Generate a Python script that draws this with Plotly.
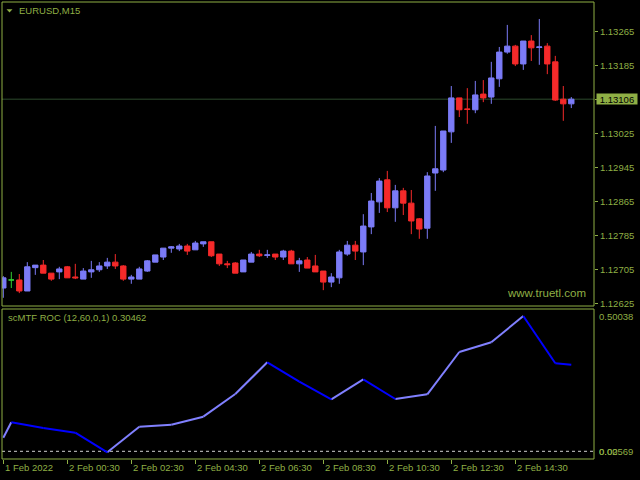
import plotly.graph_objects as go
import pandas as pd

# ---------------- data ----------------
symbol_label = "EURUSD,M15"
indicator_label = "scMTF ROC (12,60,0,1) 0.30462"
watermark = "www.truetl.com"

start_time = "2022-02-01 22:30"
n_bars = 72

opens = [1.12661, 1.12680, 1.12680, 1.12654, 1.12709, 1.12715, 1.12696, 1.12699, 1.12711, 1.12687,
         1.12682, 1.12699, 1.12704, 1.12713, 1.12722, 1.12713, 1.12682, 1.12682, 1.12701, 1.12722,
         1.12734, 1.12755, 1.12753, 1.12760, 1.12751, 1.12765, 1.12770, 1.12741, 1.12718, 1.12720,
         1.12699, 1.12722, 1.12741, 1.12738, 1.12741, 1.12734, 1.12748, 1.12718, 1.12727, 1.12713,
         1.12701, 1.12675, 1.12685, 1.12741, 1.12762, 1.12746, 1.12805, 1.12864, 1.12916, 1.12850,
         1.12890, 1.12861, 1.12824, 1.12802, 1.12932, 1.12939, 1.13029, 1.13109, 1.13083, 1.13081,
         1.13118, 1.13111, 1.13154, 1.13217, 1.13231, 1.13189, 1.13243, 1.13228, 1.13231, 1.13194,
         1.13106, 1.13095]
highs = [1.12689, 1.12699, 1.12694, 1.12722, 1.12715, 1.12727, 1.12696, 1.12711, 1.12713, 1.12718,
         1.12708, 1.12725, 1.12722, 1.12732, 1.12741, 1.12715, 1.12692, 1.12711, 1.12727, 1.12739,
         1.12755, 1.12760, 1.12765, 1.12765, 1.12772, 1.12770, 1.12770, 1.12741, 1.12725, 1.12722,
         1.12727, 1.12746, 1.12751, 1.12751, 1.12741, 1.12751, 1.12751, 1.12732, 1.12734, 1.12739,
         1.12701, 1.12696, 1.12751, 1.12772, 1.12772, 1.12835, 1.12885, 1.12920, 1.12937, 1.12904,
         1.12897, 1.12892, 1.12826, 1.12934, 1.13043, 1.13031, 1.13137, 1.13109, 1.13132, 1.13149,
         1.13151, 1.13194, 1.13229, 1.13281, 1.13234, 1.13243, 1.13257, 1.13295, 1.13238, 1.13208,
         1.13137, 1.13111]
lows = [1.12638, 1.12661, 1.12649, 1.12654, 1.12692, 1.12696, 1.12678, 1.12682, 1.12685, 1.12682,
        1.12682, 1.12685, 1.12699, 1.12706, 1.12706, 1.12678, 1.12671, 1.12682, 1.12699, 1.12722,
        1.12727, 1.12744, 1.12748, 1.12739, 1.12751, 1.12758, 1.12734, 1.12713, 1.12708, 1.12696,
        1.12699, 1.12722, 1.12734, 1.12732, 1.12727, 1.12727, 1.12718, 1.12699, 1.12708, 1.12699,
        1.12656, 1.12663, 1.12671, 1.12737, 1.12727, 1.12715, 1.12788, 1.12838, 1.12840, 1.12817,
        1.12833, 1.12788, 1.12777, 1.12777, 1.12890, 1.12934, 1.13003, 1.13064, 1.13048, 1.13073,
        1.13099, 1.13095, 1.13135, 1.13213, 1.13184, 1.13175, 1.13196, 1.13187, 1.13165, 1.13102,
        1.13055, 1.13085]
closes = [1.12685, 1.12680, 1.12654, 1.12711, 1.12715, 1.12696, 1.12682, 1.12706, 1.12685, 1.12685,
          1.12701, 1.12704, 1.12713, 1.12722, 1.12713, 1.12682, 1.12687, 1.12706, 1.12725, 1.12739,
          1.12755, 1.12758, 1.12760, 1.12748, 1.12767, 1.12770, 1.12737, 1.12718, 1.12716, 1.12696,
          1.12727, 1.12741, 1.12737, 1.12739, 1.12734, 1.12748, 1.12718, 1.12725, 1.12708, 1.12699,
          1.12675, 1.12687, 1.12746, 1.12762, 1.12748, 1.12807, 1.12866, 1.12913, 1.12850, 1.12890,
          1.12861, 1.12819, 1.12800, 1.12925, 1.12942, 1.13031, 1.13109, 1.13081, 1.13082, 1.13116,
          1.13109, 1.13156, 1.13217, 1.13231, 1.13189, 1.13243, 1.13227, 1.13229, 1.13189, 1.13104,
          1.13095, 1.13106]

price_ticks = [1.12625, 1.12705, 1.12785, 1.12865, 1.12945, 1.13025, 1.13106, 1.13185, 1.13265]
price_tick_text = ["1.12625", "1.12705", "1.12785", "1.12865", "1.12945", "1.13025", "", "1.13185", "1.13265"]
current_price = 1.13106

# indicator (scMTF ROC) values at bar numbers (1-based)
roc_bars = [1, 2, 6, 10, 14, 18, 22, 26, 30, 34, 38, 42, 46, 50, 54, 58, 62, 66, 70, 72]
roc_vals = [0.0503, 0.1072, 0.0862, 0.0688, -0.0037, 0.0910, 0.0984, 0.1280, 0.2119, 0.3291,
            0.2574, 0.1923, 0.2663, 0.1934, 0.2108, 0.3672, 0.4031, 0.5004, 0.3254, 0.3203]
roc_scale_labels = ["0.50038", "0.00", "0.02569"]
roc_scale_vals = [0.50038, 0.0, 0.0]

time_tick_bars = [1, 9, 17, 25, 33, 41, 49, 57, 65]
time_tick_text = ["1 Feb 2022", "2 Feb 00:30", "2 Feb 02:30", "2 Feb 04:30", "2 Feb 06:30",
                  "2 Feb 08:30", "2 Feb 10:30", "2 Feb 12:30", "2 Feb 14:30"]

# ---------------- styles ----------------
BG = "#000000"
FG = "#8FAF45"
BULL = "#7B7BF7"
BEAR = "#F52A2A"
DOJI = "#32CD32"
ROC_UP = "#8080FF"
ROC_DN = "#0000FF"
PRICE_LINE = "#2D4A2D"
FONT = "Liberation Sans"

W, H = 640, 480
L, R, T, B = 2, 46, 2, 21
PH = H - T - B  # plot height in px


def py(pix):  # pixel row -> paper y
    return (H - B - pix) / PH


def px(pix):  # pixel col -> paper x
    return (pix - L) / (W - L - R)


main_dom = [py(306), 1.0]
sub_dom = [0.0, py(309)]

times = pd.date_range(start_time, periods=n_bars, freq="15min")
step = pd.Timedelta(minutes=15)
x_range = [times[0] - step * (1.3 / 8), times[0] + step * ((W - R - 3.3) / 8)]

# split doji (open == close) bars
reg = [i for i in range(n_bars) if opens[i] != closes[i]]
doj = [i for i in range(n_bars) if opens[i] == closes[i]]

fig = go.Figure()
fig.add_trace(go.Candlestick(
    x=[times[i] for i in reg], open=[opens[i] for i in reg], high=[highs[i] for i in reg],
    low=[lows[i] for i in reg], close=[closes[i] for i in reg],
    increasing=dict(line=dict(color=BULL, width=1), fillcolor=BULL),
    decreasing=dict(line=dict(color=BEAR, width=1), fillcolor=BEAR),
    whiskerwidth=0, xaxis="x", yaxis="y", showlegend=False, hoverinfo="skip"))
fig.add_trace(go.Candlestick(
    x=[times[i] for i in doj], open=[opens[i] for i in doj], high=[highs[i] for i in doj],
    low=[lows[i] for i in doj], close=[closes[i] for i in doj],
    increasing=dict(line=dict(color=DOJI, width=1), fillcolor=DOJI),
    decreasing=dict(line=dict(color=DOJI, width=1), fillcolor=DOJI),
    whiskerwidth=0, xaxis="x", yaxis="y", showlegend=False, hoverinfo="skip"))

# indicator segments coloured by direction
roc_t = [times[b - 1] for b in roc_bars]
up_x, up_y, dn_x, dn_y = [], [], [], []
for k in range(len(roc_vals) - 1):
    seg_x = [roc_t[k], roc_t[k + 1], None]
    seg_y = [roc_vals[k], roc_vals[k + 1], None]
    if roc_vals[k + 1] >= roc_vals[k]:
        up_x += seg_x; up_y += seg_y
    else:
        dn_x += seg_x; dn_y += seg_y
fig.add_trace(go.Scatter(x=up_x, y=up_y, mode="lines", line=dict(color=ROC_UP, width=2),
                         xaxis="x", yaxis="y2", showlegend=False, hoverinfo="skip"))
fig.add_trace(go.Scatter(x=dn_x, y=dn_y, mode="lines", line=dict(color=ROC_DN, width=2),
                         xaxis="x", yaxis="y2", showlegend=False, hoverinfo="skip"))

p_per_px = 0.000023564
main_range = [1.13265 - (306 - 31.7) * p_per_px, 1.13265 + (31.7 - 2) * p_per_px]
r_per_px = 0.50038 / (451.3 - 316)
sub_range = [-(459 - 451.3) * r_per_px, (451.3 - 309) * r_per_px]

shapes = [
    dict(type="line", xref="paper", yref="y", x0=0, x1=1, y0=current_price, y1=current_price,
         line=dict(color=PRICE_LINE, width=1), layer="below"),
    dict(type="line", xref="paper", yref="y2", x0=0, x1=1, y0=0, y1=0,
         line=dict(color="#D0D0D0", width=1, dash="3px,3px"), layer="below"),
    dict(type="rect", xref="paper", yref="paper", x0=0, x1=1, y0=main_dom[0], y1=main_dom[1],
         line=dict(color=FG, width=1)),
    dict(type="rect", xref="paper", yref="paper", x0=0, x1=1, y0=sub_dom[0], y1=sub_dom[1],
         line=dict(color=FG, width=1)),
    dict(type="path", xref="paper", yref="paper",
         path=f"M {px(6.5)} {py(9.2)} L {px(12.5)} {py(9.2)} L {px(9.5)} {py(12.5)} Z",
         fillcolor=FG, line=dict(color=FG, width=0)),
]

font = dict(family=FONT, size=9.5, color=FG)
ann = [
    dict(text=symbol_label, xref="paper", yref="paper", x=px(17), y=py(10.5),
         xanchor="left", yanchor="middle", showarrow=False, font=font),
    dict(text=indicator_label, xref="paper", yref="paper", x=px(6), y=py(317.5),
         xanchor="left", yanchor="middle", showarrow=False, font=font),
    dict(text=watermark, xref="paper", yref="paper", x=px(588), y=py(293),
         xanchor="right", yanchor="middle", showarrow=False,
         font=dict(family=FONT, size=11.5, color=FG)),
    dict(text=f"{current_price:.5f}", xref="paper", yref="y", x=px(596), y=current_price,
         xanchor="left", yanchor="middle", showarrow=False, bgcolor=FG, borderpad=0,
         width=40, height=10, align="center",
         font=dict(family=FONT, size=9.5, color="#000000")),
]
for lbl, v in zip(roc_scale_labels, roc_scale_vals):
    ann.append(dict(text=lbl, xref="paper", yref="y2", x=px(597.5), y=v, xanchor="left",
                    yanchor="middle", showarrow=False, font=font))
for b, lbl in zip(time_tick_bars, time_tick_text):
    ann.append(dict(text=lbl, xref="x", yref="paper", x=times[b - 1], y=py(468),
                    xanchor="left", yanchor="middle", showarrow=False, font=font))

fig.update_layout(
    width=W, height=H, margin=dict(l=L, r=R, t=T, b=B),
    paper_bgcolor=BG, plot_bgcolor=BG, showlegend=False,
    boxgap=0.33, boxgroupgap=0,
    xaxis=dict(type="date", range=x_range, domain=[0, 1], anchor="y2",
               rangeslider=dict(visible=False), showgrid=False, zeroline=False, showline=False,
               tickvals=[times[b - 1] for b in time_tick_bars], ticks="outside", ticklen=4,
               tickcolor=FG, showticklabels=False),
    yaxis=dict(domain=main_dom, range=main_range, side="right", anchor="x",
               showgrid=False, zeroline=False, showline=False,
               tickvals=price_ticks, ticktext=price_tick_text, ticks="outside", ticklen=3,
               tickcolor=FG, tickfont=font),
    yaxis2=dict(domain=sub_dom, range=sub_range, side="right", anchor="x",
                showgrid=False, zeroline=False, showline=False, showticklabels=False),
    shapes=shapes, annotations=ann,
)

fig.write_html("out.html", config={"displayModeBar": False},
               post_script="document.body.style.margin='0';document.body.style.background='#000';"
                           "document.body.style.overflow='hidden';")
